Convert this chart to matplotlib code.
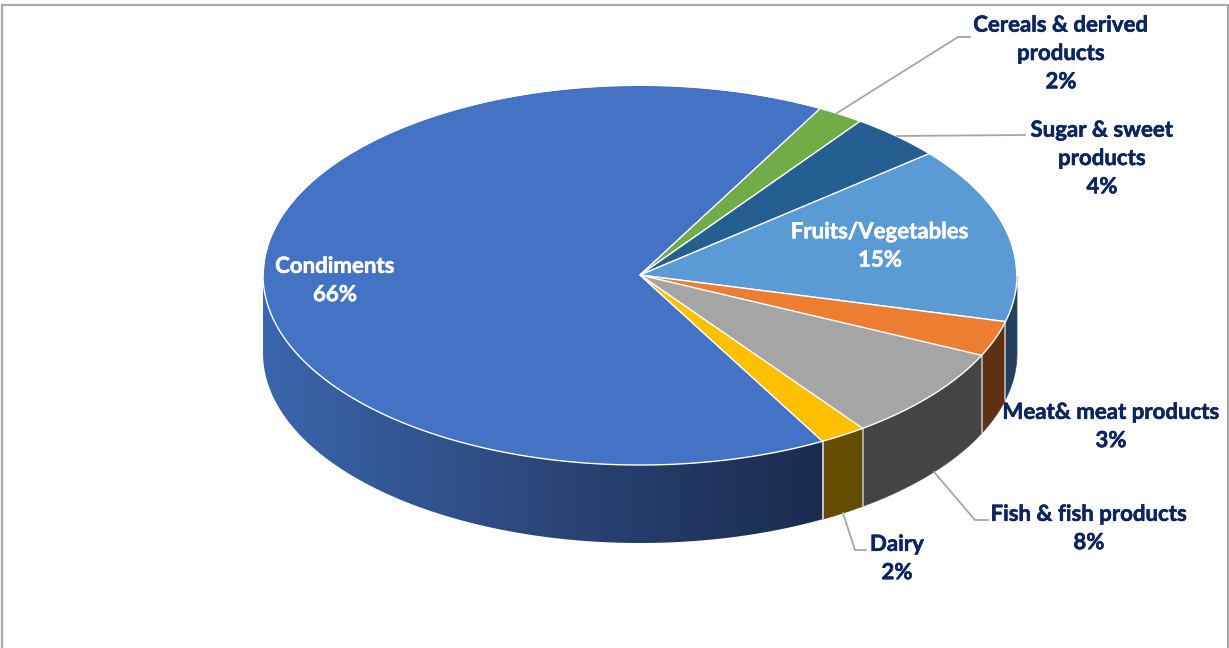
import numpy as np
import matplotlib
matplotlib.use("Agg")
import matplotlib.pyplot as plt
import matplotlib.patheffects as pe
from matplotlib.colors import LinearSegmentedColormap
from matplotlib.patches import Polygon

# slices run clockwise starting from the front of the pie
names = ["Condiments", "Cereals & derived\nproducts", "Sugar & sweet\nproducts",
         "Fruits/Vegetables", "Meat& meat products", "Fish & fish products", "Dairy"]
values = [66, 2, 4, 15, 3, 8, 2]
top_colors = ["#4472C4", "#70AD47", "#255E91", "#5B9BD5", "#ED7D31", "#A5A5A5", "#FFC000"]
side_colors = [None, "#43682B", "#16385A", "#25405E", "#5F3113", "#444444", "#644C00"]

START = 151.0
CX, CY, RX, RY, DEPTH = 640, 275, 377, 190, 78
NAVY = "#0B2560"
LEADER = "#A6A6A6"

side_cmap = LinearSegmentedColormap.from_list("side", ["#3A66AD", "#2B4679", "#1A2B4E"])


def rim(t):
    t = np.radians(t)
    return CX + RX * np.sin(t), CY - RY * np.cos(t)


fig = plt.figure(figsize=(12.29, 6.48), dpi=100)
ax = fig.add_axes([0, 0, 1, 1])
ax.axis("off")

# chart frame, open along the bottom
ax.plot([1.5, 1.5, 1228, 1228], [648, 4.5, 4.5, 648], color="#A9A9A9", lw=1.6, zorder=1)

edges = START + np.concatenate([[0], np.cumsum(values)]) * 3.6

# outer wall, only the part facing the viewer (90..270 degrees from the top)
for i in range(len(values)):
    a0, a1 = edges[i], edges[i + 1]
    for k in (-1, 0, 1):
        lo = max(a0 + 360 * k, 90)
        hi = min(a1 + 360 * k, 270)
        if hi <= lo:
            continue
        steps = np.linspace(lo, hi, 200)
        xs, ys = rim(steps)
        pts = np.column_stack([np.r_[xs, xs[::-1]], np.r_[ys, ys[::-1] + DEPTH]])
        if side_colors[i] is None:
            # the large wall darkens from left to right
            shade = ax.imshow(np.linspace(0, 1, 256)[None, :], cmap=side_cmap, aspect="auto",
                              extent=(263, 825, 560, 270), zorder=2)
            shade.set_clip_path(Polygon(pts, closed=True, transform=ax.transData))
        else:
            ax.add_patch(Polygon(pts, closed=True, fc=side_colors[i], ec=side_colors[i],
                                 lw=0.5, zorder=2))

ax.set_xlim(0, 1229)
ax.set_ylim(648, 0)

# seams between the wall segments
for e in edges:
    t = e % 360
    if 90 < t < 270:
        x, y = rim(t)
        ax.plot([x, x], [y, y + DEPTH], color="#C8C8C8", lw=1.1, zorder=3)

# top face
for i in range(len(values)):
    ts = np.arange(edges[i], edges[i + 1] + 0.25, 0.25)
    xs, ys = rim(ts)
    pts = np.column_stack([np.r_[CX, xs], np.r_[CY, ys]])
    ax.add_patch(Polygon(pts, closed=True, fc=top_colors[i], ec="white", lw=1.0, zorder=4))

# trim the white outline off the back half of the top face
for span in [(0, 90), (270, 360)]:
    xs, ys = rim(np.arange(span[0], span[1] + 0.5, 0.5))
    ax.plot(xs, ys, color="white", lw=1.4, zorder=5)

# leader lines
leaders = [([837, 958, 970], [113, 37, 37]),
           ([897, 1025], [136, 135]),
           ([934, 975, 988], [472, 520, 520]),
           ([843, 855, 866], [513, 550, 550])]
for lx, ly in leaders:
    ax.plot(lx, ly, color=LEADER, lw=1.3, zorder=6)

# labels: position and colour for each slice
label_x = [335, 1061, 1102, 880, 1111, 1089, 897]
label_y = [280.5, 53.5, 158.5, 246, 426.5, 528.5, 558.5]
label_color = ["white", NAVY, NAVY, "white", NAVY, NAVY, NAVY]

for name, v, lx, ly, lc in zip(names, values, label_x, label_y, label_color):
    txt = ax.text(lx, ly, f"{name}\n{v}%", ha="center", va="center", color=lc,
                  family="Lato", weight="bold", fontsize=16, linespacing=1.43, zorder=7)
    txt.set_path_effects([pe.withStroke(linewidth=0.4, foreground=lc)])

fig.savefig("out.png", dpi=100, facecolor="white")
